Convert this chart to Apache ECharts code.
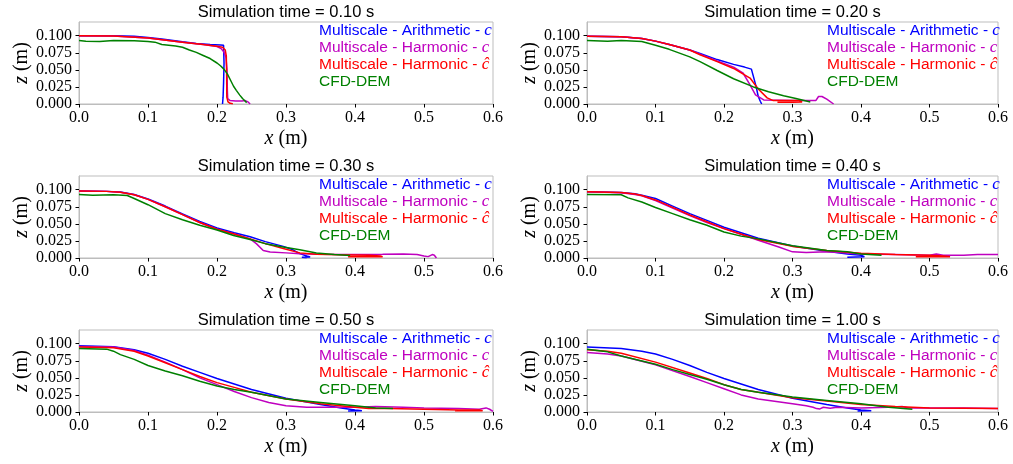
<!DOCTYPE html>
<html>
<head>
<meta charset="utf-8">
<script src="https://cdn.jsdelivr.net/npm/echarts@6/dist/echarts.min.js"></script>
<style>
html,body{margin:0;padding:0;background:#fff;}
#chart{width:1013px;height:464px;}
</style>
</head>
<body>
<div id="chart"></div>
<script>
// ---------- DATA ----------
const panelTitles = ['Simulation time = 0.10 s','Simulation time = 0.20 s','Simulation time = 0.30 s','Simulation time = 0.40 s','Simulation time = 0.50 s','Simulation time = 1.00 s'];
const seriesNames = ['Multiscale - Arithmetic - c','Multiscale - Harmonic - c','Multiscale - Harmonic - \u0109','CFD-DEM'];
const seriesColors = ['#0000ff','#bf00bf','#ff0000','#008000'];
const xTicks = [0,0.1,0.2,0.3,0.4,0.5,0.6];
const yTicks = [0,0.025,0.05,0.075,0.1];

// t = 0.10 s
const arith_010 = [[0,0.100],[0.05,0.0998],[0.08,0.099],[0.1,0.0975],[0.12,0.095],[0.15,0.091],[0.17,0.0885],[0.19,0.087],[0.205,0.0865],[0.2095,0.086],[0.2105,0.084],[0.2102,0.06],[0.2095,0.03],[0.2088,0.01],[0.208,0.0]];
const harm_010 = [[0,0.100],[0.05,0.0995],[0.1,0.0965],[0.15,0.0905],[0.18,0.087],[0.2,0.084],[0.206,0.081],[0.21,0.076],[0.213,0.068],[0.2145,0.05],[0.215,0.02],[0.2155,0.008],[0.219,0.005],[0.227,0.0045],[0.236,0.0045],[0.241,0.005],[0.245,0.003],[0.248,0.0]];
const harmHat_010 = [[0,0.100],[0.05,0.0995],[0.1,0.0965],[0.15,0.0905],[0.18,0.087],[0.2,0.0845],[0.208,0.083],[0.212,0.079],[0.2135,0.07],[0.214,0.04],[0.2142,0.01],[0.216,0.003],[0.219,0.001],[0.223,0.0005]];
const cfd_010 = [[0,0.093],[0.01,0.092],[0.03,0.0915],[0.05,0.093],[0.08,0.0925],[0.1,0.0915],[0.11,0.0905],[0.12,0.087],[0.14,0.085],[0.15,0.083],[0.16,0.079],[0.17,0.0755],[0.18,0.071],[0.19,0.0665],[0.2,0.060],[0.205,0.056],[0.21,0.051],[0.215,0.044],[0.22,0.034],[0.224,0.026],[0.228,0.020],[0.233,0.013],[0.237,0.008],[0.241,0.004],[0.243,0.002]];

// t = 0.20 s
const arith_020 = [[0,0.099],[0.05,0.0985],[0.08,0.096],[0.1,0.092],[0.12,0.087],[0.15,0.079],[0.165,0.074],[0.19,0.065],[0.214,0.058],[0.23,0.054],[0.24,0.051],[0.243,0.040],[0.247,0.025],[0.25,0.011],[0.253,0.004],[0.255,0.0]];
const harm_020 = [[0,0.099],[0.05,0.0985],[0.08,0.096],[0.1,0.092],[0.12,0.087],[0.15,0.079],[0.165,0.073],[0.19,0.063],[0.214,0.054],[0.228,0.045],[0.238,0.028],[0.246,0.0135],[0.258,0.006],[0.3,0.005],[0.334,0.005],[0.338,0.011],[0.343,0.011],[0.35,0.007],[0.36,0.0]];
const harmHat_020 = [[0,0.099],[0.05,0.0985],[0.08,0.096],[0.1,0.092],[0.12,0.087],[0.15,0.079],[0.165,0.072],[0.19,0.062],[0.214,0.052],[0.238,0.038],[0.25,0.022],[0.263,0.009],[0.272,0.005],[0.31,0.005],[0.314,0.003],[0.3,0.0025],[0.278,0.0025]];
const cfd_020 = [[0,0.093],[0.03,0.092],[0.05,0.093],[0.08,0.0915],[0.1,0.086],[0.12,0.080],[0.15,0.069],[0.165,0.062],[0.19,0.049],[0.214,0.037],[0.243,0.025],[0.265,0.018],[0.287,0.012],[0.305,0.008],[0.326,0.003]];

// t = 0.30 s
const arith_030 = [[0,0.098],[0.04,0.0975],[0.06,0.0965],[0.08,0.093],[0.1,0.0865],[0.125,0.076],[0.15,0.0645],[0.175,0.0535],[0.2,0.044],[0.225,0.037],[0.248,0.031],[0.27,0.024],[0.296,0.017],[0.31,0.012],[0.32,0.0064],[0.33,0.003],[0.335,0.0015],[0.323,0.0012],[0.33,0.0005]];
const harm_030 = [[0,0.098],[0.04,0.0975],[0.06,0.0962],[0.08,0.0925],[0.1,0.0858],[0.125,0.075],[0.15,0.0635],[0.175,0.052],[0.2,0.042],[0.225,0.035],[0.248,0.028],[0.257,0.021],[0.267,0.011],[0.277,0.0088],[0.3,0.0075],[0.32,0.0064],[0.35,0.0055],[0.4,0.005],[0.44,0.0055],[0.47,0.006],[0.49,0.005],[0.5,0.003],[0.506,0.002],[0.512,0.005],[0.515,0.004],[0.518,0.0]];
const harmHat_030 = [[0,0.098],[0.04,0.0975],[0.06,0.0962],[0.08,0.0925],[0.1,0.0858],[0.125,0.075],[0.15,0.0635],[0.175,0.052],[0.2,0.042],[0.225,0.035],[0.248,0.028],[0.27,0.021],[0.296,0.014],[0.32,0.0075],[0.344,0.0054],[0.393,0.0045],[0.42,0.004],[0.437,0.003],[0.44,0.002],[0.39,0.002]];
const cfd_030 = [[0,0.093],[0.02,0.092],[0.05,0.0925],[0.07,0.0915],[0.08,0.087],[0.1,0.078],[0.125,0.065],[0.15,0.056],[0.175,0.048],[0.2,0.041],[0.224,0.033],[0.248,0.027],[0.27,0.021],[0.296,0.016],[0.32,0.012],[0.344,0.0074],[0.37,0.005],[0.393,0.0035]];

// t = 0.40 s
const arith_040 = [[0,0.097],[0.05,0.096],[0.07,0.094],[0.08,0.092],[0.1,0.087],[0.125,0.076],[0.15,0.065],[0.175,0.055],[0.2,0.045],[0.25,0.029],[0.3,0.0175],[0.35,0.0097],[0.38,0.006],[0.4,0.004],[0.405,0.002],[0.38,0.0012]];
const harm_040 = [[0,0.097],[0.05,0.0955],[0.07,0.093],[0.08,0.091],[0.1,0.084],[0.125,0.073],[0.15,0.062],[0.175,0.052],[0.2,0.043],[0.25,0.026],[0.28,0.016],[0.3,0.009],[0.32,0.008],[0.35,0.009],[0.37,0.008],[0.4,0.006],[0.45,0.005],[0.5,0.004],[0.51,0.006],[0.52,0.004],[0.55,0.004],[0.57,0.005],[0.6,0.005]];
const harmHat_040 = [[0,0.097],[0.05,0.0957],[0.07,0.0935],[0.08,0.0915],[0.1,0.085],[0.125,0.074],[0.15,0.063],[0.175,0.053],[0.2,0.043],[0.25,0.027],[0.3,0.017],[0.35,0.011],[0.4,0.007],[0.45,0.005],[0.5,0.004],[0.52,0.003],[0.53,0.002],[0.48,0.002]];
const cfd_040 = [[0,0.093],[0.05,0.0925],[0.06,0.088],[0.08,0.082],[0.1,0.074],[0.125,0.065],[0.15,0.056],[0.175,0.048],[0.2,0.038],[0.225,0.032],[0.25,0.028],[0.3,0.018],[0.35,0.011],[0.38,0.009],[0.4,0.006],[0.43,0.004]];

// t = 0.50 s
const arith_050 = [[0,0.097],[0.05,0.0955],[0.08,0.091],[0.1,0.086],[0.125,0.077],[0.15,0.067],[0.175,0.058],[0.2,0.049],[0.225,0.041],[0.25,0.033],[0.3,0.020],[0.35,0.011],[0.38,0.006],[0.4,0.003],[0.41,0.002],[0.39,0.0015]];
const harm_050 = [[0,0.096],[0.05,0.095],[0.08,0.090],[0.1,0.083],[0.125,0.073],[0.15,0.062],[0.175,0.050],[0.2,0.040],[0.225,0.030],[0.25,0.021],[0.275,0.014],[0.3,0.009],[0.33,0.007],[0.37,0.007],[0.4,0.007],[0.43,0.008],[0.47,0.007],[0.5,0.006],[0.55,0.005],[0.58,0.004],[0.59,0.006],[0.595,0.004],[0.6,0.001]];
const harmHat_050 = [[0,0.095],[0.05,0.094],[0.08,0.089],[0.1,0.082],[0.125,0.072],[0.15,0.062],[0.175,0.052],[0.2,0.043],[0.225,0.036],[0.25,0.029],[0.3,0.019],[0.35,0.012],[0.4,0.007],[0.42,0.005],[0.45,0.005],[0.5,0.004],[0.55,0.003],[0.58,0.003],[0.585,0.002],[0.545,0.002]];
const cfd_050 = [[0,0.093],[0.04,0.092],[0.05,0.089],[0.06,0.084],[0.08,0.077],[0.1,0.068],[0.125,0.060],[0.15,0.053],[0.175,0.045],[0.2,0.038],[0.225,0.033],[0.25,0.029],[0.3,0.019],[0.35,0.014],[0.4,0.009],[0.43,0.006],[0.455,0.005]];

// t = 1.00 s
const arith_100 = [[0,0.095],[0.05,0.093],[0.08,0.089],[0.1,0.085],[0.125,0.077],[0.15,0.068],[0.175,0.058],[0.2,0.049],[0.225,0.041],[0.25,0.033],[0.3,0.020],[0.35,0.011],[0.38,0.006],[0.4,0.003],[0.415,0.002],[0.395,0.0015]];
const harm_100 = [[0,0.087],[0.03,0.085],[0.05,0.082],[0.1,0.069],[0.15,0.052],[0.175,0.043],[0.2,0.034],[0.225,0.025],[0.25,0.019],[0.3,0.012],[0.32,0.009],[0.33,0.007],[0.335,0.005],[0.34,0.0045],[0.345,0.007],[0.355,0.0055],[0.365,0.007],[0.4,0.006],[0.44,0.007],[0.46,0.008],[0.47,0.006],[0.5,0.006],[0.55,0.006],[0.6,0.005]];
const harmHat_100 = [[0,0.091],[0.03,0.089],[0.05,0.086],[0.1,0.073],[0.15,0.057],[0.175,0.049],[0.2,0.040],[0.225,0.033],[0.25,0.029],[0.3,0.021],[0.35,0.016],[0.4,0.011],[0.45,0.008],[0.5,0.006],[0.55,0.0055],[0.6,0.005]];
const cfd_100 = [[0,0.092],[0.03,0.088],[0.05,0.082],[0.1,0.070],[0.125,0.062],[0.15,0.055],[0.175,0.048],[0.2,0.040],[0.225,0.033],[0.25,0.029],[0.3,0.022],[0.35,0.017],[0.4,0.012],[0.44,0.007],[0.475,0.004]];

const panels = [
  [arith_010, harm_010, harmHat_010, cfd_010],
  [arith_020, harm_020, harmHat_020, cfd_020],
  [arith_030, harm_030, harmHat_030, cfd_030],
  [arith_040, harm_040, harmHat_040, cfd_040],
  [arith_050, harm_050, harmHat_050, cfd_050],
  [arith_100, harm_100, harmHat_100, cfd_100]
];

// ---------- LAYOUT ----------
const colLeft = [79, 587];
const colWidth = [414, 411];
const rowTop = [22, 176, 330];
const plotH = 82;
const serif = 'Liberation Serif';
const sans = 'Liberation Sans';
const spineColor = '#bdbdbd';

const grids = [], xAxes = [], yAxes = [], series = [], legends = [], graphics = [];
const rich = {};
seriesColors.forEach((c, k) => {
  rich['n' + k] = {color: c, fontFamily: sans, fontSize: 15.5, lineHeight: 17};
  rich['i' + k] = {color: c, fontFamily: serif, fontStyle: 'italic', fontSize: 17, lineHeight: 17};
});
function legendFormatter(name) {
  const k = seriesNames.indexOf(name);
  const m = name.match(/^(.*- )(\S)$/);
  if (m) return '{n' + k + '|' + m[1] + '}{i' + k + '|' + m[2] + '}';
  return '{n' + k + '|' + name + '}';
}

panels.forEach((pdata, i) => {
  const col = i % 2, row = Math.floor(i / 2);
  grids.push({left: colLeft[col], top: rowTop[row], width: colWidth[col], height: plotH,
    show: true, borderColor: spineColor, borderWidth: 1, backgroundColor: 'transparent'});
  xAxes.push({
    type: 'value', gridIndex: i, min: 0, max: 0.6, interval: 0.1,
    axisLine: {show: true, onZero: false, lineStyle: {color: spineColor, width: 1}},
    axisTick: {show: true, length: 3.5, customValues: xTicks, lineStyle: {color: '#000', width: 1}},
    axisLabel: {customValues: xTicks, formatter: v => v.toFixed(1), fontFamily: serif, fontSize: 16, color: '#000', margin: 6},
    splitLine: {show: false},
    name: '{it|x} (m)', nameLocation: 'middle', nameGap: 25,
    nameTextStyle: {fontFamily: serif, fontSize: 20, color: '#000',
      rich: {it: {fontFamily: serif, fontStyle: 'italic', fontSize: 20, color: '#000'}}}
  });
  yAxes.push({
    type: 'value', gridIndex: i, min: 0, max: 0.12, interval: 0.025,
    axisLine: {show: true, onZero: false, lineStyle: {color: spineColor, width: 1}},
    axisTick: {show: true, length: 3.5, customValues: yTicks, lineStyle: {color: '#000', width: 1}},
    axisLabel: {customValues: yTicks, formatter: v => v.toFixed(3), fontFamily: serif, fontSize: 16, color: '#000', margin: 7},
    splitLine: {show: false},
    name: '{it|z} (m)', nameLocation: 'middle', nameGap: 45, nameRotate: 90,
    nameTextStyle: {fontFamily: serif, fontSize: 20, color: '#000',
      rich: {it: {fontFamily: serif, fontStyle: 'italic', fontSize: 20, color: '#000'}}}
  });
  pdata.forEach((d, k) => {
    series.push({
      type: 'line', name: seriesNames[k], xAxisIndex: i, yAxisIndex: i, data: d,
      showSymbol: false, symbol: 'none', smooth: false,
      lineStyle: {color: seriesColors[k], width: 1.5}, itemStyle: {color: seriesColors[k]},
      z: 2 + k
    });
  });
  legends.push({
    data: seriesNames, orient: 'vertical', left: colLeft[col] + (col === 0 ? 235 : 235), top: rowTop[row] + 0.5,
    icon: 'none', itemWidth: 0, itemHeight: 10, itemGap: 0, padding: 0, selectedMode: false,
    formatter: legendFormatter, textStyle: {rich: rich}
  });
  graphics.push({
    type: 'text', x: colLeft[col] + colWidth[col] / 2, y: rowTop[row] - 9.5,
    style: {text: panelTitles[i], textAlign: 'center', textVerticalAlign: 'middle',
      font: '16.5px "Liberation Sans"', fill: '#000'}
  });
});

const chart = echarts.init(document.getElementById('chart'), null, {renderer: 'canvas'});
chart.setOption({
  animation: false,
  backgroundColor: '#fff',
  grid: grids, xAxis: xAxes, yAxis: yAxes, series: series, legend: legends, graphic: graphics
});
</script>
</body>
</html>
